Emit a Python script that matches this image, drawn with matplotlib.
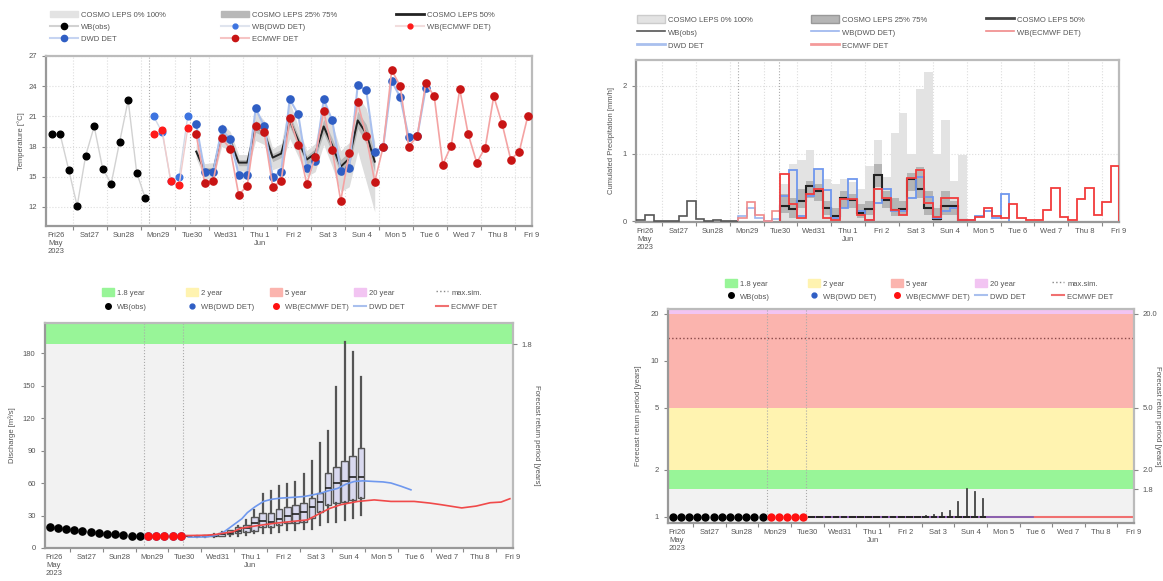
import numpy as np
import matplotlib
matplotlib.use('Agg')
import matplotlib.pyplot as plt
import matplotlib.patches as mpatches
from matplotlib.lines import Line2D
from matplotlib.ticker import NullLocator

plt.rcParams['font.family'] = ['Liberation Sans', 'DejaVu Sans']

W, H = 1163, 581

# ---------------- data (x = days since Fri 26 May 2023 00:00) ----------------
day_labels = ['Fri26\nMay\n2023', 'Sat27', 'Sun28', 'Mon29', 'Tue30', 'Wed31', 'Thu 1\nJun',
              'Fri 2', 'Sat 3', 'Sun 4', 'Mon 5', 'Tue 6', 'Wed 7', 'Thu 8', 'Fri 9']

obs_t = 0.375 + 0.25 * np.arange(12)     # observations, 6-hourly
wb_t = 3.375 + 0.25 * np.arange(5)       # water balance driven by det. forecasts
fc_t = 4.625 + 0.25 * np.arange(40)      # forecast steps
now_lines = [3.25, 4.45]

# temperature [°C]
obs_temp = [19.2, 19.2, 15.7, 12.1, 17.1, 20.0, 15.8, 14.3, 18.5, 22.6, 15.4, 12.9]
wb_dwd_temp = [21.0, 19.4, 14.6, 15.0, 21.0]
wb_ecmwf_temp = [19.2, 19.6, 14.6, 14.2, 19.8]
dwd_temp = [20.2, 15.5, 15.5, 19.7, 18.7, 15.2, 15.2, 21.8, 20.0, 15.0, 15.5, 22.7, 21.2, 15.9,
            16.6, 22.7, 20.6, 15.6, 15.9, 24.1, 23.6, 17.5, 18.0, 24.5, 22.9, 18.9, 19.0, 23.8]
ecmwf_temp = [19.2, 14.4, 14.6, 18.8, 17.8, 13.2, 14.1, 20.0, 19.4, 14.0, 14.6, 20.8, 18.2, 14.3,
              17.0, 21.5, 17.7, 12.6, 17.4, 22.4, 19.0, 14.5, 18.0, 25.6, 24.0, 18.0, 19.0, 24.3,
              23.0, 16.2, 18.1, 23.7, 19.2, 16.4, 17.9, 23.0, 20.2, 16.7, 17.5, 21.0]
cosmo_med = [17.5, 15.6, 15.6, 19.1, 18.6, 16.4, 16.4, 20.0, 19.4, 16.9, 17.3, 20.6, 18.6, 16.7,
             17.3, 20.0, 18.1, 16.0, 16.8, 20.6, 19.3, 16.5]
cosmo_min = [16.8, 14.8, 14.8, 18.0, 17.6, 15.6, 15.5, 18.6, 18.2, 15.7, 16.0, 18.8, 17.0, 15.0,
             15.5, 18.2, 16.0, 13.5, 14.0, 17.5, 14.5, 11.5]
cosmo_max = [18.3, 16.3, 16.4, 20.3, 19.5, 17.2, 17.2, 21.5, 20.6, 17.8, 18.3, 22.5, 20.0, 17.6,
             18.3, 22.6, 20.3, 17.6, 18.4, 23.0, 21.8, 18.5]
cosmo_q25 = [17.2, 15.3, 15.3, 18.7, 18.2, 16.1, 16.1, 19.4, 19.0, 16.5, 16.9, 20.0, 18.1, 16.2,
             16.8, 19.3, 17.4, 15.3, 16.0, 19.8, 18.3, 15.5]
cosmo_q75 = [17.8, 15.9, 15.9, 19.5, 19.0, 16.7, 16.7, 20.6, 19.8, 17.3, 17.7, 21.2, 19.1, 17.1,
             17.8, 20.7, 18.8, 16.7, 17.5, 21.5, 20.2, 17.4]

# precipitation [mm], 6-hourly steps
obs_pr_edges = 0.25 * np.arange(14)
obs_pr = [0.02, 0.02, 0.10, 0.0, 0.0, 0.0, 0.08, 0.30, 0.04, 0.01, 0.02, 0.01, 0.0]
wb_pr_edges = 3.25 + 0.25 * np.arange(6)
wb_dwd_pr = [0.08, 0.20, 0.05, 0.0, 0.03]
wb_ecmwf_pr = [0.05, 0.28, 0.10, 0.0, 0.15]
fc_pr_edges = 4.5 + 0.25 * np.arange(41)
ecmwf_pr = [0.70, 0.25, 0.05, 0.40, 0.48, 0.05, 0.02, 0.33, 0.33, 0.10, 0.02, 0.48, 0.34, 0.17,
            0.10, 0.64, 0.75, 0.27, 0.07, 0.34, 0.34, 0.02, 0.02, 0.07, 0.20, 0.08, 0.05, 0.25,
            0.05, 0.02, 0.02, 0.17, 0.49, 0.07, 0.02, 0.33, 0.49, 0.10, 0.29, 0.82]
dwd_pr = [0.38, 0.76, 0.08, 0.38, 0.77, 0.46, 0.05, 0.20, 0.63, 0.15, 0.02, 0.27, 0.47, 0.15,
          0.15, 0.34, 0.65, 0.36, 0.05, 0.15, 0.20, 0.02, 0.02, 0.08, 0.15, 0.05, 0.40]
cosmo_pr_med = [0.23, 0.18, 0.30, 0.52, 0.45, 0.20, 0.08, 0.34, 0.32, 0.12, 0.18, 0.68, 0.32, 0.17,
                0.18, 0.62, 0.47, 0.20, 0.03, 0.22, 0.22, 0.02]
cosmo_pr_max = [0.55, 0.85, 0.90, 1.05, 0.75, 0.62, 0.55, 0.62, 0.58, 0.48, 0.82, 1.20, 0.65, 1.30,
                1.60, 1.00, 1.95, 2.20, 1.00, 1.50, 0.60, 0.98]
cosmo_pr_q25 = [0.12, 0.05, 0.20, 0.35, 0.30, 0.10, 0.03, 0.20, 0.20, 0.05, 0.10, 0.50, 0.20, 0.08,
                0.10, 0.45, 0.35, 0.10, 0.0, 0.10, 0.10, 0.0]
cosmo_pr_q75 = [0.40, 0.35, 0.48, 0.60, 0.55, 0.30, 0.20, 0.45, 0.40, 0.25, 0.30, 0.85, 0.45, 0.35,
                0.30, 0.72, 0.80, 0.45, 0.20, 0.45, 0.30, 0.04]

# discharge [m3/s]
obs_q = [19.5, 18.9, 18.0, 16.7, 16.1, 14.9, 14.2, 13.3, 12.7, 11.8, 11.1, 10.8]
wb_dwd_q = [11.0, 11.0, 10.9, 10.8, 10.8]
wb_ecmwf_q = [11.0, 11.0, 10.9, 10.8, 10.8]
box_whislo = [10.7, 10.6, 10.5, 10.6, 10.8, 11.0, 11.5, 12.0, 13.6, 13.6, 13.6, 15.0, 17.0, 17.0,
              18.0, 18.0, 21.0, 24.4, 24.4, 26.0, 27.5, 30.6]
box_q1 = [10.9, 10.8, 10.8, 11.0, 11.5, 12.5, 13.5, 15.1, 16.0, 19.1, 19.1, 21.3, 22.8, 22.8,
          24.4, 27.5, 33.6, 39.8, 42.0, 42.9, 44.4, 46.0]
box_med = [11.0, 11.0, 11.1, 11.5, 12.5, 14.0, 16.0, 18.2, 22.8, 25.3, 24.4, 26.5, 29.6, 31.5,
           33.6, 38.3, 42.9, 55.2, 59.9, 61.4, 66.0, 66.0]
box_q3 = [11.1, 11.3, 11.6, 12.3, 14.0, 16.5, 19.0, 21.3, 28.4, 32.7, 32.7, 35.8, 38.3, 39.8,
          41.4, 46.0, 51.2, 69.0, 75.0, 80.0, 85.0, 92.0]
box_whishi = [11.2, 11.5, 12.0, 13.0, 15.0, 17.0, 20.0, 26.0, 35.0, 50.0, 53.0, 57.0, 59.0, 60.5,
              68.0, 80.0, 97.0, 108.0, 149.0, 190.0, 181.0, 158.0]
dwd_q_t = [4.61, 5.15, 5.43, 5.70, 5.97, 6.24, 6.41, 6.64, 6.90, 7.15, 7.41, 7.91, 8.15, 8.40,
           8.65, 8.90, 9.16, 9.42, 9.67, 9.93, 10.28, 10.55, 10.79, 11.10, 11.40]
dwd_q = [10.0, 10.2, 11.5, 15.0, 21.0, 27.0, 32.7, 38.0, 43.0, 45.0, 46.0, 47.0, 47.6, 49.0,
         50.7, 53.0, 55.0, 59.0, 61.4, 62.0, 61.4, 61.0, 60.0, 57.0, 53.7]
ecmwf_q_t = [4.55, 5.15, 5.43, 5.97, 6.21, 6.68, 7.23, 7.74, 8.25, 8.65, 8.92, 9.26, 9.78, 10.28,
             10.79, 11.50, 11.97, 12.32, 12.95, 13.39, 13.82, 14.15, 14.42]
ecmwf_q = [11.5, 11.8, 12.5, 15.0, 18.2, 20.5, 22.8, 24.4, 26.0, 32.4, 36.5, 40.0, 43.0, 44.4,
           43.0, 43.0, 41.5, 40.0, 37.0, 38.7, 41.8, 42.4, 45.5]
q_rp18 = 188  # discharge of the 1.8-year return period

# return period [years]
obs_rp = [1.0, 1.0, 1.0, 1.0, 1.0, 1.0, 1.0, 1.0, 1.0, 1.0, 1.0, 1.0]
wb_ecmwf_rp = [1.0, 1.0, 1.0, 1.0, 1.0]
rp_whishi = [1.0, 1.0, 1.0, 1.0, 1.0, 1.0, 1.0, 1.0, 1.0, 1.0, 1.0, 1.0, 1.0, 1.0,
             1.02, 1.03, 1.06, 1.1, 1.25, 1.5, 1.45, 1.3]
dwd_rp_t, dwd_rp = [4.55, 11.4], [1.0, 1.0]
ecmwf_rp_t, ecmwf_rp = [4.55, 14.5], [1.0, 1.0]
rp_max_sim = 14
rp_bands = [(0.5, 1.5, '#f2f2f2'), (1.5, 2, '#98f598'), (2, 5, '#fff3b0'),
            (5, 20, '#fbb4ae'), (20, 100, '#f2c4f2')]

# ---------------- styling helpers ----------------
FS = 5.5
TXT = '#555555'


def style_axis(ax, xgrid=True, ygrid=True):
    ax.set_xlim(0.22, 14.5)
    ax.set_xticks(np.arange(1, 15))
    ax.set_xticklabels([])
    ax.set_xticks(np.arange(15) + 0.5, minor=True)
    ax.set_xticklabels(day_labels, minor=True)
    ax.tick_params(axis='x', which='minor', length=0, labelsize=FS, labelcolor=TXT, pad=4)
    ax.tick_params(axis='x', which='major', length=3, color='#888888')
    ax.tick_params(axis='y', labelsize=FS, labelcolor=TXT, length=3, color='#888888')
    if xgrid:
        ax.grid(True, axis='x', which='major', ls=':', color='#dddddd', lw=0.8)
    if ygrid:
        ax.grid(True, axis='y', ls=':', color='#dddddd', lw=0.8)
    for x in now_lines:
        ax.axvline(x, ls=':', color='#aaaaaa', lw=0.8, zorder=1.5)
    for s in ['top', 'right']:
        ax.spines[s].set_color('#bbbbbb')
        ax.spines[s].set_linewidth(1.6)
    for s in ['left', 'bottom']:
        ax.spines[s].set_color('#999999')
        ax.spines[s].set_linewidth(1.6)


def column_legend(fig, items, x_px, y_px, hl=3.6, spacing=0.55, hh=0.9):
    handles = [h for h, l in items]
    labels = [l for h, l in items]
    leg = fig.legend(handles, labels, loc='upper left',
                     bbox_to_anchor=(x_px / W, 1 - y_px / H), frameon=False, fontsize=FS,
                     handlelength=hl, handleheight=hh, handletextpad=0.4, labelspacing=spacing,
                     borderpad=0, borderaxespad=0)
    for t in leg.get_texts():
        t.set_color(TXT)


def dot_line(lc, mc, lw=1.5, ms=4.5):
    return Line2D([], [], color=lc, lw=lw, marker='o', ms=ms, mfc=mc, mec=mc)


fig = plt.figure(figsize=(W / 100, H / 100), dpi=100)

# ---------------- temperature ----------------
ax = fig.add_axes([46.4 / W, 1 - 226 / H, 485.6 / W, 170 / H])
ct = fc_t[:22]
ax.fill_between(ct, cosmo_min, cosmo_max, color='#dddddd', lw=0, zorder=2)
ax.fill_between(ct, cosmo_q25, cosmo_q75, color='#b8b8b8', lw=0, zorder=2.1)
ax.plot(ct, cosmo_med, color='#222222', lw=1.4, zorder=3)
ax.plot(obs_t, obs_temp, color='#d2d2d2', lw=1, marker='o', ms=4.8, mfc='black', mec='black', zorder=4)
ax.plot(wb_t, wb_dwd_temp, color='#d3d9e6', lw=1, marker='o', ms=4.8, mfc='#3d74e0', mec='#3d74e0', zorder=4)
ax.plot(wb_t, wb_ecmwf_temp, color='#f0cccc', lw=1, marker='o', ms=4.8, mfc='#ff1a1a', mec='#ff1a1a', zorder=4.1)
ax.plot(fc_t[:28], dwd_temp, color='#a9c0ee', lw=1.5, marker='o', ms=5.2, mfc='#2f5ec4', mec='#2f5ec4', zorder=4)
ax.plot(fc_t, ecmwf_temp, color='#f4a3a3', lw=1.2, marker='o', ms=5.2, mfc='#c81414', mec='#c81414', zorder=4.2)
ax.set_ylim(10.1, 27)
ax.set_yticks([12, 15, 18, 21, 24, 27])
ax.set_ylabel('Temperature [°C]', fontsize=FS, color=TXT, labelpad=3)
style_axis(ax)

column_legend(fig, [(mpatches.Patch(color='#e3e3e3'), 'COSMO LEPS 0% 100%'),
                    (dot_line('#d2d2d2', 'black'), 'WB(obs)'),
                    (dot_line('#c6d4f2', '#2f5ec4'), 'DWD DET')], 50, 11)
column_legend(fig, [(mpatches.Patch(color='#b8b8b8'), 'COSMO LEPS 25% 75%'),
                    (dot_line('#dfe4ee', '#3d74e0', ms=3.5), 'WB(DWD DET)'),
                    (dot_line('#f6c4c4', '#c81414'), 'ECMWF DET')], 221, 11)
column_legend(fig, [(Line2D([], [], color='#222222', lw=2), 'COSMO LEPS 50%'),
                    (dot_line('#f2dddd', '#ff1a1a', ms=3.5), 'WB(ECMWF DET)')], 396, 11)

# ---------------- precipitation ----------------
ax = fig.add_axes([635.6 / W, 1 - 222 / H, 483.4 / W, 162 / H])
pe = fc_pr_edges[:22]
ax.bar(pe, cosmo_pr_max, width=0.25, align='edge', color='#e3e3e3', lw=0, zorder=2)
ax.bar(pe, np.array(cosmo_pr_q75) - np.array(cosmo_pr_q25), bottom=cosmo_pr_q25, width=0.25,
       align='edge', color='#b5b5b5', lw=0, zorder=2.1)
ax.stairs(obs_pr, obs_pr_edges, color='#555555', lw=1.2, zorder=3)
ax.stairs(wb_dwd_pr, wb_pr_edges, color='#9ab4ee', lw=1.2, zorder=3)
ax.stairs(wb_ecmwf_pr, wb_pr_edges, color='#f08a8a', lw=1.2, zorder=3)
ax.stairs(dwd_pr, fc_pr_edges[:28], color='#6f97ee', lw=1.3, zorder=3.2)
ax.stairs(cosmo_pr_med, fc_pr_edges[:23], color='#222222', lw=1.5, zorder=3.1)
ax.stairs(ecmwf_pr, fc_pr_edges, color='#f23c3c', lw=1.3, zorder=3.3)
ax.set_ylim(-0.01, 2.38)
ax.set_yticks([0, 1, 2])
ax.set_ylabel('Cumulated Precipitation [mm/h]', fontsize=FS, color=TXT, labelpad=5)
style_axis(ax)

column_legend(fig, [(mpatches.Patch(facecolor='#e3e3e3', edgecolor='#cccccc'), 'COSMO LEPS 0% 100%'),
                    (Line2D([], [], color='#555555', lw=1.2), 'WB(obs)'),
                    (Line2D([], [], color='#a9c0ee', lw=2), 'DWD DET')], 637, 15, hh=1.3)
column_legend(fig, [(mpatches.Patch(facecolor='#b5b5b5', edgecolor='#999999'), 'COSMO LEPS 25% 75%'),
                    (Line2D([], [], color='#9ab4ee', lw=1.2), 'WB(DWD DET)'),
                    (Line2D([], [], color='#f49a9a', lw=2), 'ECMWF DET')], 811, 15, hh=1.3)
column_legend(fig, [(Line2D([], [], color='#444444', lw=2), 'COSMO LEPS 50%'),
                    (Line2D([], [], color='#f08a8a', lw=1.2), 'WB(ECMWF DET)')], 986, 15, hh=1.3)

# ---------------- discharge ----------------
box_color = '#555555'
ax = fig.add_axes([44.6 / W, 1 - 548 / H, 467.9 / W, 225.3 / H])
ax.set_facecolor('#f2f2f2')
ax.axhspan(q_rp18, 1000, color='#98f598', lw=0, zorder=0.5)
stats = [dict(whislo=a, q1=b, med=c, q3=d, whishi=e)
         for a, b, c, d, e in zip(box_whislo, box_q1, box_med, box_q3, box_whishi)]
ax.bxp(stats, positions=fc_t[:22], widths=0.2, showfliers=False, showcaps=False,
       patch_artist=True, manage_ticks=False,
       boxprops=dict(facecolor='#d9d9ef', edgecolor=box_color, lw=1),
       whiskerprops=dict(color=box_color, lw=1.6),
       medianprops=dict(color='#222222', lw=1.2), zorder=3)
ax.plot(dwd_q_t, dwd_q, color='#6f98ee', lw=1.2, zorder=4)
ax.plot(ecmwf_q_t, ecmwf_q, color='#f04a4a', lw=1.2, zorder=4)
ax.plot(obs_t, obs_q, 'o', color='black', ms=5.2, zorder=5)
ax.plot(wb_t, wb_dwd_q, 'o', color='#2f5ec4', ms=5.2, zorder=5)
ax.plot(wb_t, wb_ecmwf_q, 'o', color='#ff1010', ms=5.2, zorder=5.1)
ax.set_ylim(0, 208)
ax.set_yticks([0, 30, 60, 90, 120, 150, 180])
ax.set_ylabel('Discharge [m³/s]', fontsize=FS, color=TXT, labelpad=5)
style_axis(ax, xgrid=False, ygrid=False)
ax2 = ax.twinx()
ax2.set_ylim(0, 208)
ax2.set_yticks([q_rp18])
ax2.set_yticklabels(['1.8'])
ax2.tick_params(axis='y', labelsize=FS, labelcolor=TXT, length=3, color='#888888')
ax2.set_ylabel('Forecast return period [years]', fontsize=FS, color=TXT, rotation=270)
ax2.yaxis.set_label_coords(1.058, 0.5)
for s in ax2.spines.values():
    s.set_visible(False)

# ---------------- return period ----------------
ax = fig.add_axes([667.7 / W, 1 - 523 / H, 466.1 / W, 214 / H])
ax.set_yscale('log')
for lo, hi, c in rp_bands:
    ax.axhspan(lo, hi, color=c, lw=0, zorder=0.5)
ax.axhline(rp_max_sim, color='#8a4a4a', ls=':', lw=1, zorder=2)
stats = [dict(whislo=1.0, q1=1.0, med=1.0, q3=1.0, whishi=e) for e in rp_whishi]
ax.bxp(stats, positions=fc_t[:22], widths=0.2, showfliers=False, showcaps=False,
       patch_artist=True, manage_ticks=False,
       boxprops=dict(facecolor='#d9d9ef', edgecolor='#333333', lw=1.2),
       whiskerprops=dict(color='#444444', lw=1.3),
       medianprops=dict(color='#222222', lw=1.2), zorder=3)
ax.plot(ecmwf_rp_t, ecmwf_rp, color='#f07070', lw=1.5, zorder=2.5)
ax.plot(dwd_rp_t, dwd_rp, color='#5a5ad0', lw=1.2, alpha=0.8, zorder=2.6)
ax.plot(obs_t, obs_rp, 'o', color='black', ms=5, zorder=5)
ax.plot(wb_t, wb_ecmwf_rp, 'o', color='#ff1010', ms=5, zorder=5)
ax.set_ylim(0.915, 21.5)
ax.set_yticks([1, 2, 5, 10, 20])
ax.set_yticklabels(['1', '2', '5', '10', '20'])
ax.yaxis.set_minor_locator(NullLocator())
ax.set_ylabel('Forecast return period [years]', fontsize=FS, color=TXT, labelpad=6)
style_axis(ax, xgrid=False, ygrid=False)
ax2 = ax.twinx()
ax2.set_yscale('log')
ax2.set_ylim(0.915, 21.5)
ax2.set_yticks([1.5, 2, 5, 20])
ax2.set_yticklabels(['1.8', '2.0', '5.0', '20.0'])
ax2.yaxis.set_minor_locator(NullLocator())
ax2.tick_params(axis='y', labelsize=FS, labelcolor=TXT, length=3, color='#888888')
ax2.set_ylabel('Forecast return period [years]', fontsize=FS, color=TXT, rotation=270,
               va='center')
ax2.yaxis.set_label_coords(1.05, 0.5)
for s in ax2.spines.values():
    s.set_visible(False)

# legends of the two lower panels
band_items = [(mpatches.Patch(color=c), lab) for (lo, hi, c), lab in
              zip(rp_bands[1:], ['1.8 year', '2 year', '5 year', '20 year'])]
low_items = [(Line2D([], [], ls='none', marker='o', ms=4, color='black'), 'WB(obs)'),
             (Line2D([], [], ls='none', marker='o', ms=3.5, color='#2f5ec4'), 'WB(DWD DET)'),
             (Line2D([], [], ls='none', marker='o', ms=4, color='#ff1010'), 'WB(ECMWF DET)'),
             (Line2D([], [], color='#a9c0ee', lw=1.5), 'DWD DET'),
             (Line2D([], [], color='#f07070', lw=1.5), 'ECMWF DET')]
max_item = (Line2D([], [], color='#888888', ls=':', lw=1), 'max.sim.')
top_items = band_items + [max_item]
for xs, y0, sp in [([102, 186, 270, 354, 436], 288, 0.75), ([725, 808, 891, 975, 1052], 279, 0.55)]:
    for x, a, b in zip(xs, top_items, low_items):
        column_legend(fig, [a, b], x, y0, hl=1.6, spacing=sp, hh=1.3)

fig.savefig('out.png', dpi=100)
